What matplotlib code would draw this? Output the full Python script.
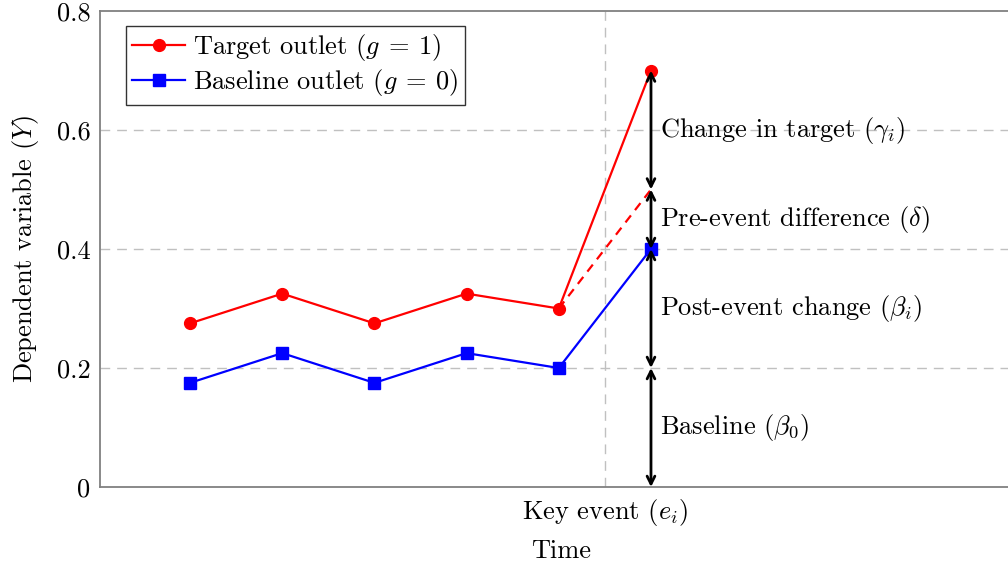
import matplotlib
matplotlib.use("Agg")
import matplotlib.pyplot as plt
from matplotlib.ticker import FixedLocator, FixedFormatter

plt.rcParams['font.family'] = 'serif'
plt.rcParams['font.serif'] = ['cmr10']
plt.rcParams['mathtext.fontset'] = 'cm'
plt.rcParams['axes.unicode_minus'] = False

# Data
time = [1, 2, 3, 4, 5, 6]
target = [0.275, 0.325, 0.275, 0.325, 0.3, 0.7]
baseline = [0.175, 0.225, 0.175, 0.225, 0.2, 0.4]
counterfactual_x = [5, 6]
counterfactual_y = [0.3, 0.5]
event_x = 5.5
event_label = r'Key event $(e_i)$'
y_ticks = [0, 0.2, 0.4, 0.6, 0.8]
y_tick_labels = ['0', '0.2', '0.4', '0.6', '0.8']
decomp_x = 6
decomp_levels = [0, 0.2, 0.4, 0.5, 0.7]
decomp_labels = [r'Baseline $(\beta_0)$', r'Post-event change $(\beta_i)$',
                 r'Pre-event difference $(\delta)$', r'Change in target $(\gamma_i)$']

FS = 19

fig = plt.figure(figsize=(10.08, 5.66), dpi=100)
ax = fig.add_axes([100/1008, 79/566, 922/1008, 476/566])
ax.set_xlim(0.024, 10.024)
ax.set_ylim(0, 0.8)

# grid
for yv in y_ticks[1:-1]:
    ax.axhline(yv, color='#c0c0c0', lw=1.0, dashes=(7, 5), zorder=0)
ax.axvline(event_x, color='#c0c0c0', lw=1.0, dashes=(7, 5), zorder=0)

ax.plot(time, target, color='#ff0000', lw=1.6, marker='o', markersize=8.5,
        label=r'Target outlet $(g\:=\:1)$', zorder=3)
ax.plot(time, baseline, color='#0000ff', lw=1.6, marker='s', markersize=8.5,
        label=r'Baseline outlet $(g\:=\:0)$', zorder=3)
ax.plot(counterfactual_x, counterfactual_y, color='#ff0000', lw=1.6,
        dashes=(4, 3), zorder=2)

for lo, hi, lab in zip(decomp_levels[:-1], decomp_levels[1:], decomp_labels):
    ax.annotate('', xy=(decomp_x, hi), xytext=(decomp_x, lo),
                arrowprops=dict(arrowstyle='<->', color='black', lw=2.0,
                                shrinkA=0, shrinkB=0, mutation_scale=14),
                zorder=4)
    ax.text(decomp_x + 0.1, (lo + hi) / 2, lab, fontsize=FS,
            ha='left', va='center')

ax.yaxis.set_major_locator(FixedLocator(y_ticks))
ax.yaxis.set_major_formatter(FixedFormatter(y_tick_labels))
ax.xaxis.set_major_locator(FixedLocator([event_x]))
ax.xaxis.set_major_formatter(FixedFormatter([event_label]))
ax.tick_params(axis='both', length=0, labelsize=FS, pad=7)

ax.set_xlabel('Time', fontsize=FS, labelpad=8)
ax.set_ylabel(r'Dependent variable $(Y)$', fontsize=FS, labelpad=11)

for s in ax.spines.values():
    s.set_color('#808080')
    s.set_linewidth(1.3)

leg = ax.legend(loc='upper left', bbox_to_anchor=(0.028, 0.969), fontsize=FS,
                frameon=True, fancybox=False, edgecolor='black',
                borderpad=0.25, handlelength=2.0, handletextpad=0.3,
                labelspacing=0.15, borderaxespad=0)
leg.get_frame().set_linewidth(1.0)

fig.savefig('out.png', dpi=100)
